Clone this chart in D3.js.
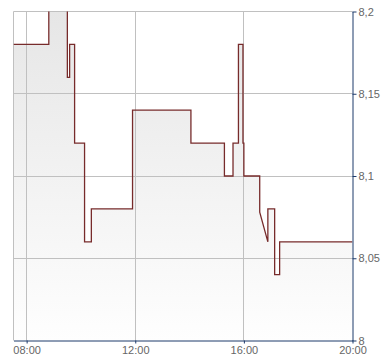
<!DOCTYPE html>
<html>
<head>
<meta charset="utf-8">
<script src="https://cdn.jsdelivr.net/npm/d3@7"></script>
<style>
  body { margin: 0; background: #fff; }
  svg { display: block; font-family: "Liberation Sans", Arial, sans-serif; }
</style>
</head>
<body>
<div id="chart"></div>
<script>
// price path vertices (time, price)
const times = ["07:31","08:49","08:49","09:30","09:30","09:35","09:35","09:46","09:46","10:08",
  "10:08","10:23","10:23","11:54","11:54","14:03","14:03","15:17","15:17","15:36",
  "15:36","15:48","15:48","15:58","15:58","16:00","16:00","16:35","16:35","16:53",
  "16:53","17:08","17:08","17:19","17:19","20:00"];
const prices = [8.18,8.18,8.21,8.21,8.16,8.16,8.18,8.18,8.12,8.12,
  8.06,8.06,8.08,8.08,8.14,8.14,8.12,8.12,8.10,8.10,
  8.12,8.12,8.18,8.18,8.12,8.12,8.10,8.10,8.078,8.06,
  8.08,8.08,8.04,8.04,8.06,8.06];
const xTicks = ["08:00","12:00","16:00","20:00"];
const yTicks = [8, 8.05, 8.1, 8.15, 8.2];
const xStart = "07:31", xEnd = "20:00";

const parse = d3.timeParse("%H:%M");
const data = times.map((t, i) => ({ t: parse(t), v: prices[i] }));

const width = 390, height = 364;
const pLeft = 13.5, pRight = 352.5, pTop = 11.5, pBottom = 340.5;

const svg = d3.select("#chart").append("svg")
  .attr("width", width)
  .attr("height", height);

const x = d3.scaleTime()
  .domain([parse(xStart), parse(xEnd)])
  .range([pLeft, pRight]);

const y = d3.scaleLinear()
  .domain([8, 8.2])
  .range([pBottom, pTop]);

const defs = svg.append("defs");
defs.append("clipPath").attr("id", "plot")
  .append("rect")
  .attr("x", pLeft).attr("y", pTop)
  .attr("width", pRight - pLeft).attr("height", pBottom - pTop);

const grad = defs.append("linearGradient")
  .attr("id", "fill")
  .attr("gradientUnits", "userSpaceOnUse")
  .attr("x1", 0).attr("x2", 0)
  .attr("y1", pTop).attr("y2", pBottom);
grad.append("stop").attr("offset", 0).attr("stop-color", "#e6e6e6");
grad.append("stop").attr("offset", 1).attr("stop-color", "#fefefe");

// area under the price
svg.append("path")
  .datum(data)
  .attr("clip-path", "url(#plot)")
  .attr("fill", "url(#fill)")
  .attr("d", d3.area().x(d => x(d.t)).y0(pBottom).y1(d => y(d.v)));

// grid
const snap = v => Math.round(v - 0.5) + 0.5;
const grid = svg.append("g").attr("stroke", "#c0c0c0").attr("stroke-width", 1);
grid.selectAll(".gx")
  .data([parse(xStart)].concat(xTicks.slice(0, -1).map(parse)))
  .enter().append("line")
  .attr("x1", d => snap(x(d))).attr("x2", d => snap(x(d)))
  .attr("y1", pTop).attr("y2", pBottom);
grid.selectAll(".gy")
  .data(yTicks.slice(1))
  .enter().append("line")
  .attr("x1", pLeft).attr("x2", pRight)
  .attr("y1", d => snap(y(d))).attr("y2", d => snap(y(d)));

// price line
svg.append("path")
  .datum(data)
  .attr("clip-path", "url(#plot)")
  .attr("fill", "none")
  .attr("stroke", "#772b2b")
  .attr("stroke-width", 1.3)
  .attr("d", d3.line().x(d => x(d.t)).y(d => y(d.v)));

const fmtY = d => String(+d.toFixed(2)).replace(".", ",");

// axes
const yAxis = svg.append("g")
  .attr("transform", `translate(${pRight},0)`)
  .call(d3.axisRight(y).tickValues(yTicks).tickFormat(fmtY).tickSize(4).tickSizeOuter(0).tickPadding(2));

const xAxis = svg.append("g")
  .attr("transform", `translate(0,${pBottom})`)
  .call(d3.axisBottom(x).tickValues(xTicks.map(parse)).tickFormat(d3.timeFormat("%H:%M"))
    .tickSize(3).tickSizeOuter(0).tickPadding(3));

[xAxis, yAxis].forEach(a => {
  a.select(".domain").attr("stroke", "#1d3a6b");
  a.selectAll(".tick line").attr("stroke", "#1d3a6b");
  a.selectAll("text").attr("fill", "#666").style("font-size", "11px")
    .style("font-family", "'Liberation Sans', Arial, sans-serif");
});
</script>
</body>
</html>
